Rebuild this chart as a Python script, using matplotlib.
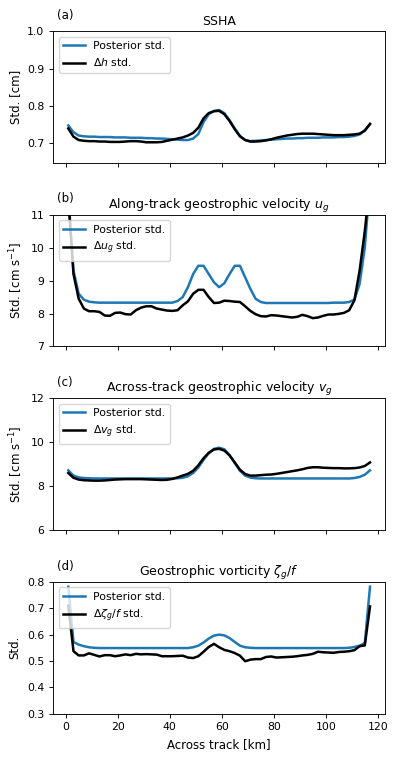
"""Posterior std. vs. error std. across the swath, four panels."""
import matplotlib
matplotlib.use("Agg")
import matplotlib.pyplot as plt
import numpy as np

# across-track positions [km]
KM = np.arange(1, 118, 2)

SSHA_POST = [0.748, 0.730, 0.721, 0.719, 0.718, 0.718, 0.717, 0.717, 0.717, 0.716,
             0.716, 0.716, 0.715, 0.715, 0.715, 0.714, 0.714, 0.713, 0.713, 0.712,
             0.711, 0.710, 0.709, 0.709, 0.713, 0.725, 0.757, 0.778, 0.787, 0.789,
             0.781, 0.762, 0.740, 0.720, 0.709, 0.706, 0.707, 0.708, 0.709, 0.710,
             0.711, 0.712, 0.713, 0.713, 0.714, 0.714, 0.715, 0.715, 0.715, 0.716,
             0.716, 0.716, 0.717, 0.717, 0.718, 0.720, 0.724, 0.735, 0.752]
SSHA_ERR = [0.740, 0.718, 0.709, 0.707, 0.706, 0.706, 0.705, 0.705, 0.704, 0.704,
            0.704, 0.705, 0.706, 0.706, 0.705, 0.703, 0.703, 0.703, 0.704, 0.707,
            0.710, 0.713, 0.716, 0.721, 0.728, 0.742, 0.767, 0.781, 0.786, 0.787,
            0.778, 0.760, 0.738, 0.719, 0.709, 0.705, 0.705, 0.706, 0.708, 0.711,
            0.715, 0.718, 0.721, 0.723, 0.725, 0.726, 0.726, 0.726, 0.725, 0.724,
            0.723, 0.722, 0.722, 0.722, 0.723, 0.724, 0.726, 0.734, 0.752]

UG_POST = [11.6, 9.3, 8.6, 8.42, 8.36, 8.34, 8.33, 8.33, 8.33, 8.33,
           8.33, 8.33, 8.33, 8.33, 8.33, 8.33, 8.33, 8.33, 8.33, 8.33,
           8.33, 8.38, 8.5, 8.8, 9.2, 9.45, 9.45, 9.2, 8.95, 8.8,
           8.92, 9.2, 9.45, 9.45, 9.1, 8.75, 8.45, 8.35, 8.32, 8.32,
           8.32, 8.32, 8.32, 8.32, 8.32, 8.32, 8.32, 8.32, 8.32, 8.32,
           8.32, 8.33, 8.33, 8.33, 8.35, 8.42, 8.9, 10.0, 12.0]
UG_ERR = [11.5, 9.2, 8.45, 8.15, 8.07, 8.07, 8.05, 7.94, 7.93, 8.02,
          8.03, 7.98, 7.97, 8.1, 8.18, 8.22, 8.22, 8.15, 8.12, 8.09,
          8.08, 8.1, 8.25, 8.37, 8.6, 8.72, 8.72, 8.5, 8.32, 8.33,
          8.39, 8.38, 8.36, 8.35, 8.22, 8.08, 7.98, 7.92, 7.91, 7.95,
          7.94, 7.92, 7.9, 7.88, 7.9, 7.96, 7.92, 7.86, 7.88, 7.93,
          7.97, 7.97, 7.99, 8.02, 8.1, 8.4, 9.3, 10.5, 12.0]

VG_POST = [8.72, 8.48, 8.40, 8.37, 8.36, 8.35, 8.35, 8.35, 8.35, 8.35,
           8.35, 8.35, 8.35, 8.35, 8.35, 8.35, 8.35, 8.35, 8.35, 8.35,
           8.35, 8.36, 8.38, 8.45, 8.6, 8.85, 9.2, 9.5, 9.7, 9.75,
           9.68, 9.42, 9.05, 8.7, 8.48, 8.39, 8.36, 8.35, 8.35, 8.35,
           8.35, 8.35, 8.35, 8.35, 8.35, 8.35, 8.35, 8.35, 8.35, 8.35,
           8.35, 8.35, 8.35, 8.35, 8.35, 8.37, 8.42, 8.52, 8.72]
VG_ERR = [8.6, 8.38, 8.3, 8.27, 8.26, 8.25, 8.25, 8.26, 8.28, 8.3,
          8.31, 8.32, 8.32, 8.32, 8.32, 8.31, 8.3, 8.29, 8.28, 8.29,
          8.33, 8.4, 8.48, 8.56, 8.7, 8.95, 9.27, 9.52, 9.67, 9.7,
          9.62, 9.4, 9.08, 8.75, 8.55, 8.48, 8.48, 8.5, 8.52, 8.53,
          8.56, 8.6, 8.64, 8.68, 8.72, 8.77, 8.83, 8.86, 8.86, 8.84,
          8.83, 8.82, 8.82, 8.81, 8.81, 8.82, 8.85, 8.92, 9.08]

ZETA_POST = [0.782, 0.572, 0.562, 0.556, 0.552, 0.550, 0.549, 0.549, 0.549, 0.549,
             0.549, 0.549, 0.549, 0.549, 0.549, 0.549, 0.549, 0.549, 0.549, 0.549,
             0.549, 0.549, 0.549, 0.549, 0.552, 0.558, 0.570, 0.585, 0.596, 0.600,
             0.597, 0.587, 0.572, 0.558, 0.552, 0.550, 0.549, 0.549, 0.549, 0.549,
             0.549, 0.549, 0.549, 0.549, 0.549, 0.549, 0.549, 0.549, 0.549, 0.549,
             0.549, 0.549, 0.549, 0.549, 0.550, 0.553, 0.558, 0.568, 0.782]
ZETA_ERR = [0.710, 0.537, 0.521, 0.521, 0.529, 0.523, 0.517, 0.522, 0.522, 0.518,
            0.521, 0.525, 0.522, 0.527, 0.525, 0.526, 0.525, 0.524, 0.518, 0.518,
            0.518, 0.519, 0.520, 0.513, 0.511, 0.518, 0.535, 0.553, 0.565, 0.552,
            0.542, 0.537, 0.530, 0.520, 0.499, 0.505, 0.507, 0.507, 0.515, 0.517,
            0.513, 0.514, 0.515, 0.516, 0.518, 0.521, 0.523, 0.527, 0.535, 0.533,
            0.532, 0.531, 0.534, 0.535, 0.537, 0.541, 0.556, 0.559, 0.707]

PANELS = [
    ("(a)", "SSHA", "Std. [cm]", r"$\Delta h$ std.", SSHA_POST, SSHA_ERR,
     (0.648, 1.0), [0.7, 0.8, 0.9, 1.0]),
    ("(b)", r"Along-track geostrophic velocity $u_g$", r"Std. [cm s$^{-1}$]",
     r"$\Delta u_g$ std.", UG_POST, UG_ERR, (7, 11), [7, 8, 9, 10, 11]),
    ("(c)", r"Across-track geostrophic velocity $v_g$", r"Std. [cm s$^{-1}$]",
     r"$\Delta v_g$ std.", VG_POST, VG_ERR, (6, 12), [6, 8, 10, 12]),
    ("(d)", r"Geostrophic vorticity $\zeta_g/f$", "Std.",
     r"$\Delta \zeta_g/f$ std.", ZETA_POST, ZETA_ERR, (0.3, 0.8),
     [0.3, 0.4, 0.5, 0.6, 0.7, 0.8]),
]

plt.rcParams.update({
    "font.size": 7.8,
    "axes.linewidth": 0.65,
    "xtick.major.size": 2.8, "ytick.major.size": 2.8,
    "xtick.major.width": 0.65, "ytick.major.width": 0.65,
})

fig, axes = plt.subplots(4, 1, figsize=(3.97, 7.6), dpi=100, sharex=True)
fig.subplots_adjust(left=0.134, right=0.970, top=0.959, bottom=0.061, hspace=0.394)

for ax, (tag, title, ylabel, errlab, post, err, ylim, yticks) in zip(axes, PANELS):
    ax.plot(KM, post, color="#1f77b4", lw=1.8, label="Posterior std.")
    ax.plot(KM, err, color="black", lw=1.8, label=errlab)
    ax.set_ylim(*ylim)
    ax.set_yticks(yticks)
    ax.set_title(title, fontsize=9, pad=4.5)
    ax.set_ylabel(ylabel, fontsize=8.5)
    ax.text(0.01, 1.12, tag, transform=ax.transAxes, fontsize=8.5, va="center")
    ax.legend(loc="upper left", fontsize=7.8)

axes[-1].set_xticks([0, 20, 40, 60, 80, 100, 120])
axes[-1].set_xlabel("Across track [km]", fontsize=8.5)

fig.savefig("out.png", dpi=100)
